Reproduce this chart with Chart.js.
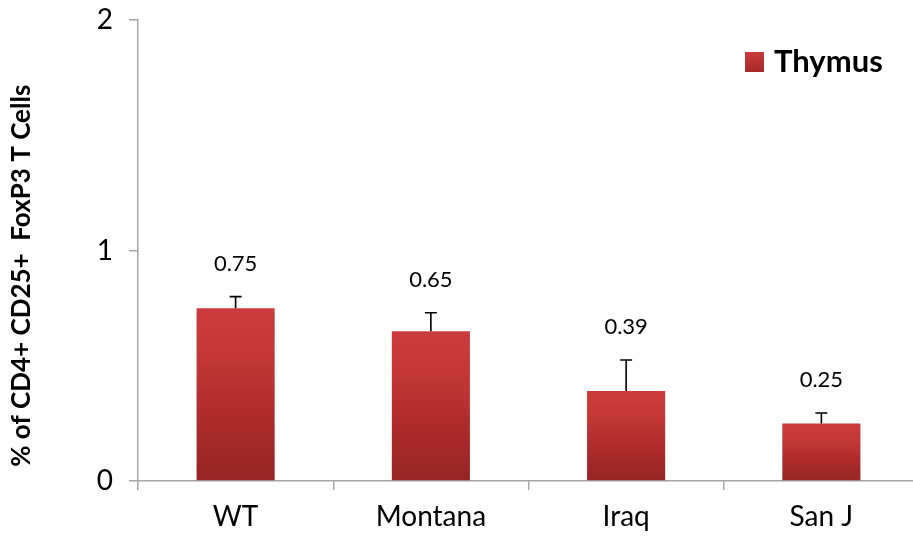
<!DOCTYPE html>
<html>
<head>
<meta charset="utf-8">
<script src="https://cdn.jsdelivr.net/npm/chart.js@4.4.1/dist/chart.umd.min.js"></script>
<style>
  html, body { margin: 0; padding: 0; background: #ffffff; overflow: hidden; }
  #wrap { width: 913px; height: 537px; overflow: hidden; }
  canvas { display: block; }
</style>
</head>
<body>
<div id="wrap"><canvas id="c" width="925" height="537"></canvas></div>
<script>
const categories = ["WT", "Montana", "Iraq", "San J"];
const seriesName = "Thymus";
const values = [0.75, 0.65, 0.39, 0.25];
const errors = [0.05, 0.08, 0.135, 0.045];
const valueLabels = ["0.75", "0.65", "0.39", "0.25"];
const yTicks = [0, 1, 2];
const yTitle = "% of CD4+ CD25+  FoxP3 T Cells";

const FONT = "Lato, 'Open Sans', 'DejaVu Sans', sans-serif";
const SERIES_COLOR = '#c23636';

function barGradient(ctx) {
  const chart = ctx.chart;
  const ys = chart.scales.y;
  if (!ys || ctx.type !== 'data') return SERIES_COLOR;
  const v = ctx.raw;
  const top = ys.getPixelForValue(v);
  const bottom = ys.getPixelForValue(0);
  if (!isFinite(top) || !isFinite(bottom) || top === bottom) return SERIES_COLOR;
  const g = chart.ctx.createLinearGradient(0, top, 0, bottom);
  g.addColorStop(0, '#cc3b3b');
  g.addColorStop(0.3, '#c33736');
  g.addColorStop(0.6, '#b02c2c');
  g.addColorStop(1, '#962424');
  return g;
}

const errorBarPlugin = {
  id: 'errorBars',
  afterDatasetsDraw(chart) {
    const ctx = chart.ctx;
    const ys = chart.scales.y;
    const meta = chart.getDatasetMeta(0);
    ctx.save();
    ctx.strokeStyle = '#000000';
    ctx.lineWidth = 1.6;
    meta.data.forEach((bar, i) => {
      const x = bar.x;
      const y0 = ys.getPixelForValue(values[i]);
      const y1 = ys.getPixelForValue(values[i] + errors[i]);
      ctx.beginPath();
      ctx.moveTo(x, y0);
      ctx.lineTo(x, y1);
      ctx.moveTo(x - 6, y1);
      ctx.lineTo(x + 6, y1);
      ctx.stroke();
      ctx.fillStyle = '#000000';
      ctx.font = "22px " + FONT;
      ctx.textAlign = 'center';
      ctx.textBaseline = 'middle';
      ctx.fillText(valueLabels[i], x, y1 - 33);
    });
    ctx.restore();
  }
};

const legendPlugin = {
  id: 'insideLegend',
  afterDraw(chart) {
    const ctx = chart.ctx;
    const area = chart.chartArea;
    const ds = chart.data.datasets[0];
    ctx.save();
    const sx = area.right - 174;
    const sy = area.top + 32;
    const g = ctx.createLinearGradient(0, sy, 0, sy + 20);
    g.addColorStop(0, '#cc3b3b');
    g.addColorStop(1, '#a42a2a');
    ctx.fillStyle = g;
    ctx.fillRect(sx, sy, 19, 20);
    ctx.fillStyle = '#000000';
    ctx.font = "bold 31px " + FONT;
    ctx.textAlign = 'left';
    ctx.textBaseline = 'middle';
    ctx.fillText(ds.label, sx + 29, sy + 10);
    ctx.restore();
  }
};

new Chart(document.getElementById('c'), {
  type: 'bar',
  data: {
    labels: categories,
    datasets: [{
      label: seriesName,
      data: values,
      backgroundColor: barGradient,
      borderWidth: 0,
      categoryPercentage: 1.0,
      barPercentage: 0.4
    }]
  },
  options: {
    responsive: false,
    animation: false,
    devicePixelRatio: 1,
    layout: { padding: { top: 20, right: 6, left: 0, bottom: 0 } },
    plugins: {
      tooltip: { enabled: false },
      legend: { display: false }
    },
    scales: {
      x: {
        grid: {
          display: true,
          drawOnChartArea: false,
          offset: true,
          tickLength: 9,
          color: '#a6a6a6',
          lineWidth: 1.5
        },
        border: { display: true, color: '#a6a6a6', width: 1.5 },
        ticks: {
          color: '#000000',
          padding: 10,
          font: { family: FONT, size: 28 }
        },
        afterFit(scale) { scale.height = 56; scale.paddingLeft = 0; scale.paddingRight = 0; }
      },
      y: {
        min: 0,
        max: 2,
        afterBuildTicks(scale) { scale.ticks = yTicks.map(v => ({ value: v })); },
        grid: {
          display: true,
          drawOnChartArea: false,
          tickLength: 9,
          color: '#a6a6a6',
          lineWidth: 1.5
        },
        border: { display: true, color: '#a6a6a6', width: 1.5 },
        ticks: {
          color: '#000000',
          padding: 16,
          font: { family: FONT, size: 28 }
        },
        title: {
          display: true,
          text: yTitle + "        ",
          color: '#000000',
          font: { family: FONT, size: 26, weight: 'bold' },
          padding: { top: 6, bottom: 0 }
        },
        afterFit(scale) { scale.width = 138; scale.paddingTop = 0; scale.paddingBottom = 0; }
      }
    }
  },
  plugins: [errorBarPlugin, legendPlugin]
});
</script>
</body>
</html>
